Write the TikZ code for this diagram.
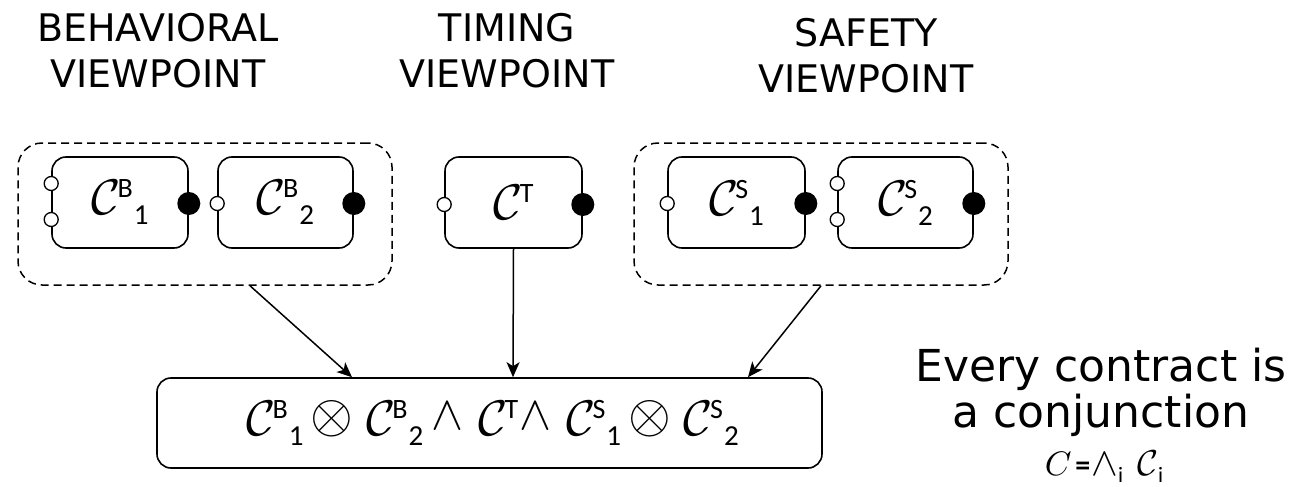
\documentclass[tikz,border=0pt]{standalone}
\usepackage{fontspec}
\setmainfont{DejaVu Sans}
\newfontfamily\labelfont{Carlito}
\usetikzlibrary{arrows.meta,calc}
% freely scalable Computer Modern math fonts
\DeclareFontShape{OMS}{cmsy}{m}{n}{<->cmsy10}{}
\DeclareFontShape{OML}{cmm}{m}{it}{<->cmmi10}{}

% pieces of a contract symbol: calligraphic C, raised tag, lowered index
\newcommand{\cc}{{\fontsize{50}{50}\selectfont$\mathcal{C}$}\kern-3pt}
\newcommand{\tagup}[1]{\raisebox{17pt}{\labelfont\fontsize{28}{28}\selectfont #1}}
\newcommand{\idx}[1]{\kern1pt\raisebox{-10pt}{\labelfont\fontsize{29}{29}\selectfont #1}}
\newcommand{\ctr}[2]{\cc\tagup{#1}\idx{#2}}
\newcommand{\opx}{{\fontsize{55}{55}\selectfont\raisebox{3pt}{$\otimes$}}}
\newcommand{\opw}{{\fontsize{48}{48}\selectfont\raisebox{6pt}{$\wedge$}}}

\begin{document}
\begin{tikzpicture}[x=1pt,y=-1pt,
  comp/.style={draw,line width=1.6pt,rounded corners=14pt,minimum height=91pt,inner sep=0pt},
  group/.style={draw,line width=1.5pt,dash pattern=on 8pt off 5pt,rounded corners=24pt,minimum width=374pt,minimum height=142pt,inner sep=0pt},
  inport/.style={circle,draw,fill=white,line width=1.3pt,minimum size=14pt,inner sep=0pt},
  outport/.style={circle,fill=black,minimum size=23pt,inner sep=0pt},
  head/.style={font=\fontsize{38}{46}\selectfont,align=center},
  link/.style={line width=1.5pt,-{Stealth[length=15pt,width=13pt,inset=4pt]}}]
\path[use as bounding box] (0,0) rectangle (1299,487);

% viewpoint titles
\node[head] (hB) at (158,51) {BEHAVIORAL\\VIEWPOINT};
\node[head] (hT) at (507,51) {TIMING\\VIEWPOINT};
\node[head] (hS) at (866,56) {SAFETY\\VIEWPOINT};

% grouping frames
\node[group] (gB) at (205,214) {};
\node[group] (gS) at (821,214) {};

% component contracts
\node[comp,minimum width=136pt] (b1) at (120,202.5) {\ctr{B}{1}};
\node[comp,minimum width=135pt] (b2) at (285.5,202.5) {\ctr{B}{2}};
\node[comp,minimum width=137pt] (t) at (513.5,202.5) {\cc\tagup{T}};
\node[comp,minimum width=137pt] (s1) at (736.5,202.5) {\ctr{S}{1}};
\node[comp,minimum width=135pt] (s2) at (905.5,202.5) {\ctr{S}{2}};

% ports
\node[inport] (b1i1) at ($(b1.west)+(0,-19)$) {};
\node[inport] (b1i2) at ($(b1.west)+(0,17)$) {};
\node[outport] (b1o) at ($(b1.east)+(0,1)$) {};
\node[inport] (b2i) at ($(b2.west)+(0,1)$) {};
\node[outport] (b2o) at ($(b2.east)+(0,1)$) {};
\node[inport] (ti) at ($(t.west)+(0,2)$) {};
\node[outport] (to) at ($(t.east)+(0,2)$) {};
\node[inport] (s1i) at ($(s1.west)+(0,1)$) {};
\node[outport] (s1o) at ($(s1.east)+(0,1)$) {};
\node[inport] (s2i1) at ($(s2.west)+(0,-19)$) {};
\node[inport] (s2i2) at ($(s2.west)+(0,17)$) {};
\node[outport] (s2o) at ($(s2.east)+(0,1)$) {};

% composed contract
\node[comp,minimum width=665pt,minimum height=90pt] (all) at (489.5,423)
  {\hspace{6pt}\ctr{B}{1}\hspace{7pt}\opx\hspace{13pt}\ctr{B}{2}\hspace{8pt}\opw\hspace{15pt}%
   \cc\tagup{T}\hspace{1pt}\opw\hspace{15pt}\ctr{S}{1}\hspace{7pt}\opx\hspace{13pt}\ctr{S}{2}};

% links into the composed contract
\draw[link] ($(gB.south)+(45,0)$) -- ($(all.north)+(-137.5,0)$);
\draw[link] (t.south) -- ($(all.north)+(23.5,0)$);
\draw[link] (gS.south) -- ($(all.north)+(258.5,0)$);

% note
\node[font=\fontsize{44}{44}\selectfont,anchor=base] (note1) at (1101,381) {Every contract is};
\node[font=\fontsize{44}{44}\selectfont,anchor=base] (note2) at (1101,427) {a conjunction};
\node[anchor=base,inner sep=0pt] (eq) at (1104,475) {{\fontsize{34}{34}\selectfont$C$}\hspace{4pt}{\labelfont\bfseries\fontsize{30}{30}\selectfont =}\hspace{1pt}{\fontsize{40}{40}\selectfont$\wedge$}\raisebox{-7pt}{\labelfont\fontsize{22}{22}\selectfont i}\hspace{14pt}{\fontsize{36}{36}\selectfont$\mathcal{C}$}\raisebox{-7pt}{\labelfont\fontsize{22}{22}\selectfont i}};
\end{tikzpicture}
\end{document}
